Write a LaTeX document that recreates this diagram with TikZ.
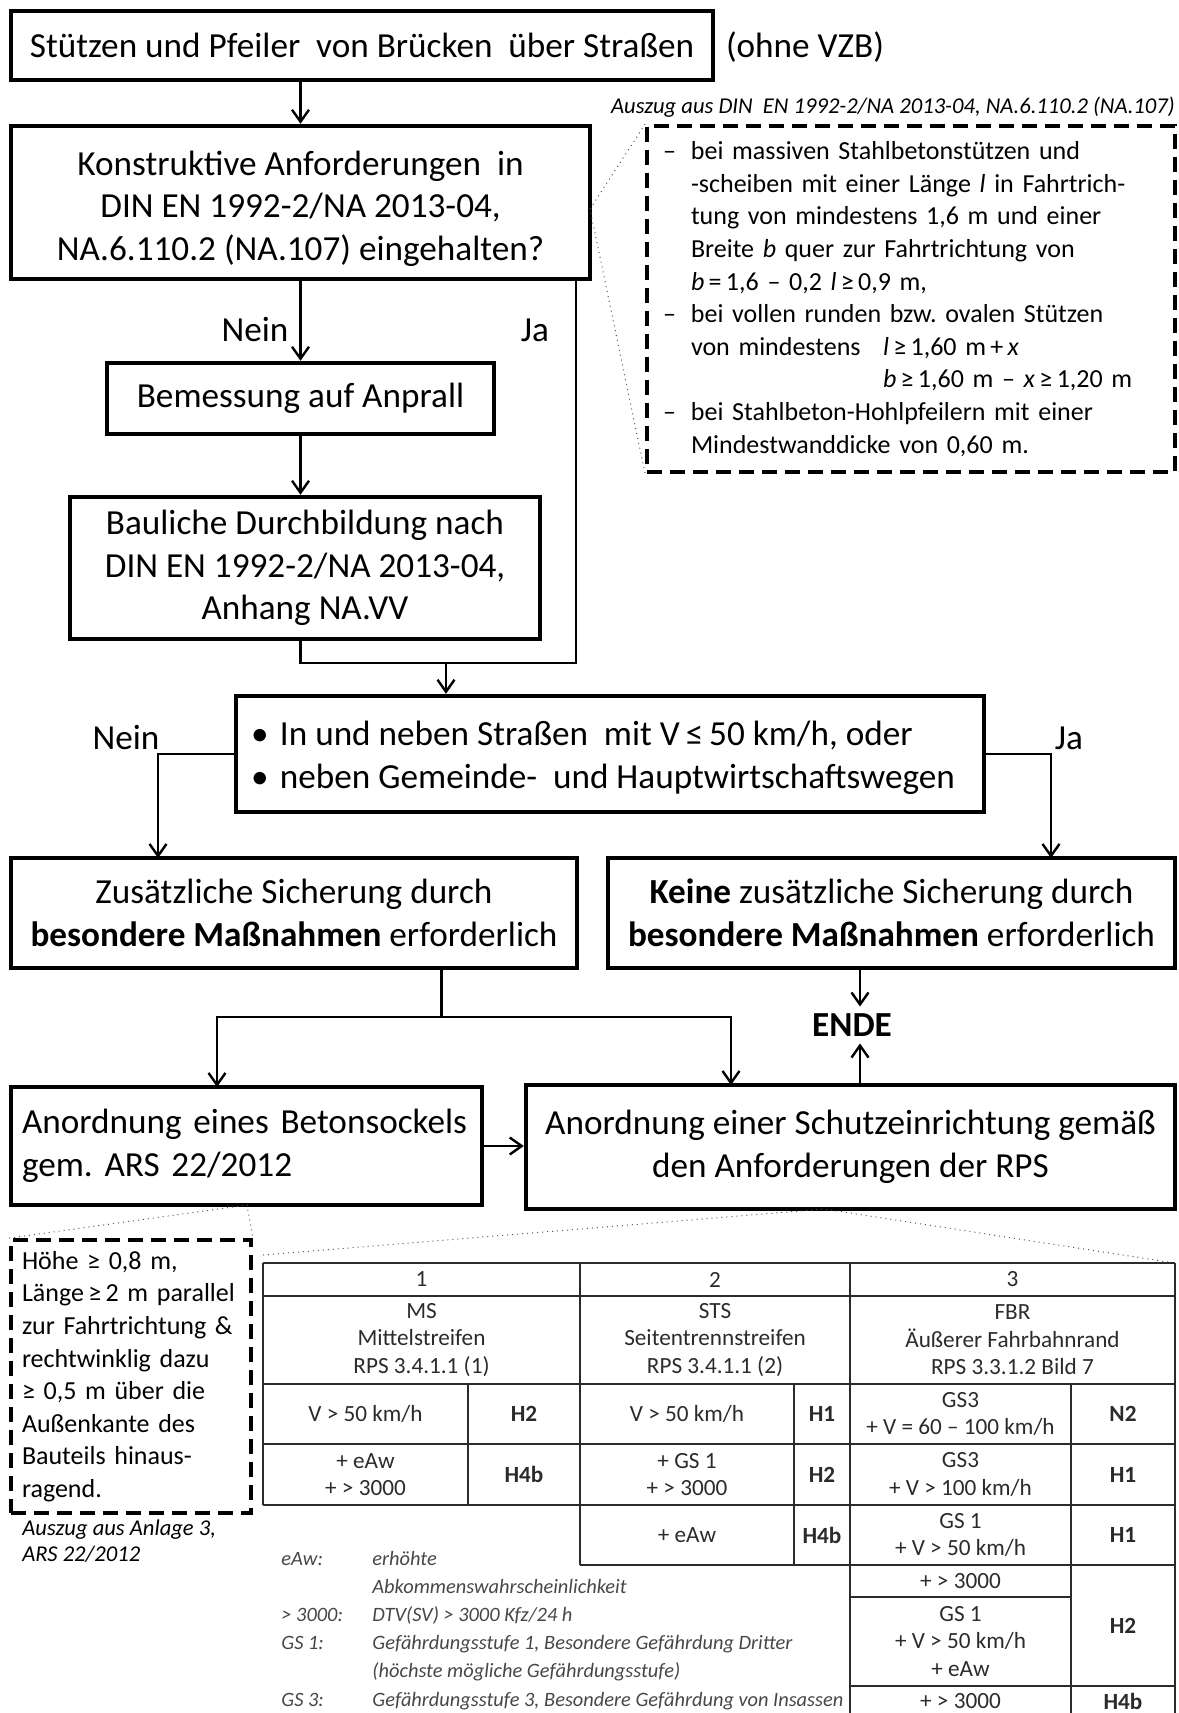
\documentclass[tikz,border=0pt]{standalone}
\usepackage{fontspec}
\setmainfont{Carlito}
\usepackage{tikz}
\usetikzlibrary{arrows.meta, calc}
\frenchspacing

\definecolor{tabgray}{HTML}{2B2B2B}
\definecolor{leggray}{HTML}{474747}
\definecolor{dotgray}{HTML}{555555}

\newcommand{\boxtxt}{\fontsize{17.6}{21.3}\selectfont}
\newcommand{\notetxt}{\fontsize{13}{16.3}\selectfont}
\newcommand{\captxt}{\fontsize{11.3}{13}\selectfont\itshape}
\newcommand{\tabtxt}{\fontsize{11.6}{13.8}\selectfont}
\newcommand{\legtxt}{\fontsize{10.2}{14.1}\selectfont\itshape}

\begin{document}
\begin{tikzpicture}[x=0.5pt, y=-0.5pt, >={Straight Barb[length=6pt,width=8.5pt]},
  flowbox/.style={draw, line width=2.2pt, font=\boxtxt, inner sep=0pt, align=center},
  notebox/.style={draw, line width=1.9pt, dash pattern=on 7.5pt off 4pt, font=\notetxt, align=left, inner ysep=0pt},
  conn/.style={line width=1.2pt},
  callout/.style={dotgray, line width=0.5pt, dotted},
  tabline/.style={line width=0.9pt, tabgray},
  cell/.style={font=\tabtxt, text=tabgray, align=center, inner sep=0pt},
  hcell/.style={cell, font=\tabtxt\bfseries}]
\useasboundingbox (0,0) rectangle (1178,1713);

\node[flowbox, minimum width=351pt, minimum height=34.5pt] (stuetzen) at (362,45.5) {Stützen und Pfeiler\ \ von Brücken\ \ über Straßen};
\node[font=\boxtxt] (vzb) at (805,47) {(ohne VZB)};

\node[flowbox, minimum width=289.5pt, minimum height=76.5pt] (anf) at (300.5,202.5)
  {\raisebox{-3pt}[\height][\depth]{\parbox{280pt}{\centering Konstruktive Anforderungen\ \ in\\DIN EN 1992-2/NA 2013-04,\\NA.6.110.2 (NA.107) eingehalten?}}};
\node[flowbox, minimum width=193.5pt, minimum height=35.5pt] (anprall) at (300.5,398.5) {Bemessung auf Anprall};
\node[flowbox, minimum width=235pt, minimum height=71pt] (durchb) at (305,568)
  {Bauliche Durchbildung nach\\DIN EN 1992-2/NA 2013-04,\\Anhang NA.VV};

\node[font=\captxt, anchor=east, inner sep=0pt] (quelle1) at (1175,107) {Auszug aus DIN\ \ EN 1992-2/NA 2013-04, NA.6.110.2 (NA.107)};
\node[notebox, minimum width=264pt, minimum height=173pt, text width=248pt, inner xsep=8pt] (auszug) at (911,299) {%
  \makebox[14pt][l]{–}bei massiven Stahlbetonstützen und\\
  \hspace*{14pt}-scheiben mit einer Länge \textit{l} in Fahrtrich-\\
  \hspace*{14pt}tung von mindestens 1,6 m und einer\\
  \hspace*{14pt}Breite \textit{b} quer zur Fahrtrichtung von\\
  \hspace*{14pt}\textit{b}\,=\,1,6 – 0,2 \textit{l}\,≥\,0,9 m,\\
  \makebox[14pt][l]{–}bei vollen runden bzw. ovalen Stützen\\
  \hspace*{14pt}\makebox[96pt][l]{von mindestens}\textit{l}\,≥\,1,60 m\,+\,\textit{x}\\
  \hspace*{110pt}\textit{b}\,≥\,1,60 m – \textit{x}\,≥\,1,20 m\\
  \makebox[14pt][l]{–}bei Stahlbeton-Hohlpfeilern mit einer\\
  \hspace*{14pt}Mindestwanddicke von 0,60 m.};
\coordinate (k1) at (590,209);
\draw[callout] (auszug.north west) -- (k1) -- (auszug.south west);

\node[flowbox, minimum width=374pt, minimum height=58pt, inner xsep=7.5pt] (bed) at (610,754)
  {\raisebox{-2pt}[\height][\depth]{\parbox{359pt}{\raggedright
   \makebox[14.5pt][l]{•}In und neben Straßen\ \ mit V\,≤\,50 km/h, oder\\
   \makebox[14.5pt][l]{•}neben Gemeinde-\ \ und Hauptwirtschaftswegen}}};

\node[flowbox, minimum width=283pt, minimum height=55pt] (zus) at (294,913)
  {Zusätzliche Sicherung durch\\\textbf{besondere Maßnahmen} erforderlich};
\node[flowbox, minimum width=283.5pt, minimum height=55pt] (keine) at (891.5,913)
  {\textbf{Keine} zusätzliche Sicherung durch\\\textbf{besondere Maßnahmen} erforderlich};
\node[font=\boxtxt\bfseries] (ende) at (852,1025) {ENDE};
\coordinate (endex) at (860,1025);

\node[flowbox, minimum width=235.5pt, minimum height=59pt, text width=224.5pt, inner xsep=5.5pt, align=left] (sockel) at (246.5,1146)
  {Anordnung eines Betonsockels\\gem. ARS 22/2012};
\node[flowbox, minimum width=324.5pt, minimum height=62pt] (schutz) at (850.5,1147)
  {Anordnung einer Schutzeinrichtung gemäß\\den Anforderungen der RPS};

\node[notebox, minimum width=120pt, minimum height=136.5pt, text width=109pt, inner xsep=5.5pt] (hoehe) at (131,1376.5)
  {Höhe ≥ 0,8 m,\\\mbox{Länge\,≥\,2 m parallel}\\zur Fahrtrichtung \&\\rechtwinklig dazu\\≥ 0,5 m über die\\Außenkante des\\Bauteils hinaus-\\ragend.};
\node[font=\captxt, anchor=north west, inner sep=0pt, align=left] (quelle2) at (22,1519) {Auszug aus Anlage 3,\\ARS 22/2012};
\coordinate (k2) at (247,1205);
\draw[callout] (hoehe.north west) -- (k2) -- (hoehe.north east);

% Verbindungen
\draw[conn,->] (stuetzen.south -| anf.north) -- (anf.north);
\draw[conn,->] (anf.south) -- (anprall.north);
\node[font=\boxtxt] (nein1) at (255,330) {Nein};
\node[font=\boxtxt] (ja1) at (535,330) {Ja};
\draw[conn,->] (anprall.south) -- (anprall.south |- durchb.north);
\coordinate (jaecke) at (576,663);
\draw[conn] (anf.south -| jaecke) -- (jaecke) -- (jaecke -| anprall.south) -- (anprall.south |- durchb.south);
\coordinate (zusammen) at (446,663);
\draw[conn,->] (zusammen) -- (zusammen |- bed.north);

\node[font=\boxtxt] (nein2) at (126,738) {Nein};
\node[font=\boxtxt] (ja2) at (1069,738) {Ja};
\coordinate (neinziel) at (158,858);
\coordinate (jaziel) at (1051,858);
\draw[conn,->] (bed.west) -| (neinziel);
\draw[conn,->] (bed.east) -| (jaziel);

\coordinate (teil) at (441.5,1017);
\coordinate (links) at (217,1087);
\coordinate (rechts) at (731,1085);
\draw[conn] (zus.south -| teil) -- (teil);
\draw[conn,->] (teil) -| (links);
\draw[conn,->] (teil) -| (rechts);
\draw[conn,->] (endex |- keine.south) -- (endex |- ende.north);
\draw[conn,->] (endex |- schutz.north) -- (endex |- ende.south);
\draw[conn,->] (sockel.east) -- (sockel.east -| schutz.west);

% Tabelle aus Anlage 3
\coordinate (tl) at (263,1263);
\coordinate (tr) at (1175,1263);
\coordinate (k3) at (824,1209);
\draw[callout] ([yshift=4pt]tl) -- (k3) -- (tr);
\foreach \y/\xa/\xb in {1263/263/1175, 1296/263/1175, 1384/263/1175, 1444/263/1175,
    1505/263/1175, 1565/580/1175, 1597/850/1071, 1686/850/1175}
  \draw[tabline] (\xa,\y) -- (\xb,\y);
\foreach \x/\ya/\yb in {263/1263/1505, 468/1384/1505, 580/1263/1565, 794/1384/1565,
    850/1263/1713, 1071/1384/1713, 1175/1263/1713}
  \draw[tabline] (\x,\ya) -- (\x,\yb);

\node[cell] (kopf1) at (421.5,1279.5) {1};
\node[cell] (kopf2) at (715,1279.5) {2};
\node[cell] (kopf3) at (1012.5,1279.5) {3};
\node[cell] (ms) at (421.5,1340) {MS\\Mittelstreifen\\RPS 3.4.1.1 (1)};
\node[cell] (sts) at (715,1340) {STS\\Seitentrennstreifen\\RPS 3.4.1.1 (2)};
\node[cell] (fbr) at (1012.5,1340) {FBR\\Äußerer Fahrbahnrand\\RPS 3.3.1.2 Bild 7};

\node[cell] (ms1) at (365.5,1414) {V > 50 km/h};
\node[hcell] (ms1h) at (524,1414) {H2};
\node[cell] (ms2) at (365.5,1474.5) {+ eAw\\+ > 3000};
\node[hcell] (ms2h) at (524,1474.5) {H4b};

\node[cell] (sts1) at (687,1414) {V > 50 km/h};
\node[hcell] (sts1h) at (822,1414) {H1};
\node[cell] (sts2) at (687,1474.5) {+ GS 1\\+ > 3000};
\node[hcell] (sts2h) at (822,1474.5) {H2};
\node[cell] (sts3) at (687,1535) {+ eAw};
\node[hcell] (sts3h) at (822,1535) {H4b};

\node[cell] (fbr1) at (960.5,1414) {GS3\\+ V = 60 – 100 km/h};
\node[hcell] (fbr1h) at (1123,1414) {N2};
\node[cell] (fbr2) at (960.5,1474.5) {GS3\\+ V > 100 km/h};
\node[hcell] (fbr2h) at (1123,1474.5) {H1};
\node[cell] (fbr3) at (960.5,1535) {GS 1\\+ V > 50 km/h};
\node[hcell] (fbr3h) at (1123,1535) {H1};
\node[cell] (fbr4) at (960.5,1581) {+ > 3000};
\node[cell] (fbr5) at (960.5,1641.5) {GS 1\\+ V > 50 km/h\\+ eAw};
\node[hcell] (fbr45h) at (1123,1625.5) {H2};
\node[cell] (fbr6) at (960.5,1701) {+ > 3000};
\node[hcell] (fbr6h) at (1123,1701) {H4b};

\node[anchor=north west, inner sep=0pt, font=\legtxt, text=leggray] (legende) at (281,1545)
  {\begin{tabular}{@{}p{45.5pt}@{}l@{}}
   eAw: & erhöhte\\
        & Abkommenswahrscheinlichkeit\\
   > 3000: & DTV(SV) > 3000 Kfz/24 h\\
   GS 1: & Gefährdungsstufe 1, Besondere Gefährdung Dritter\\
         & (höchste mögliche Gefährdungsstufe)\\
   GS 3: & Gefährdungsstufe 3, Besondere Gefährdung von Insassen
   \end{tabular}};
\end{tikzpicture}
\end{document}
